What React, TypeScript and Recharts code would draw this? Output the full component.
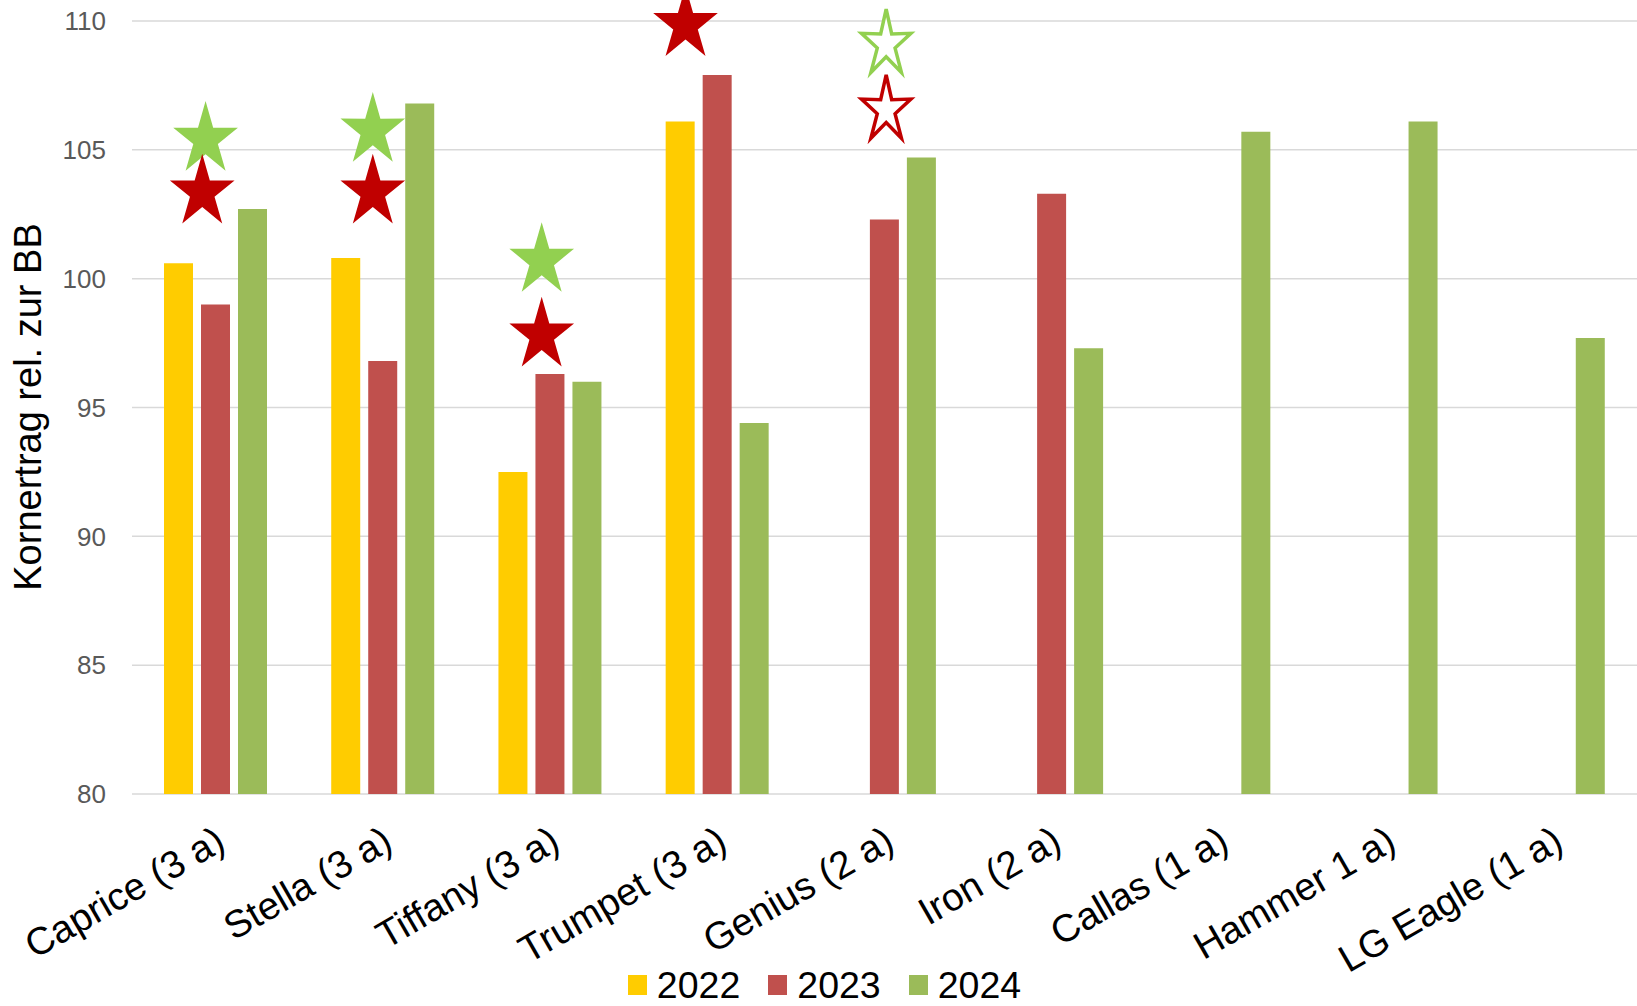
import {
  Bar,
  CartesianGrid,
  ComposedChart,
  Legend,
  Scatter,
  XAxis,
  YAxis,
} from 'recharts';

const CATEGORIES = [
  'Caprice (3 a)',
  'Stella (3 a)',
  'Tiffany (3 a)',
  'Trumpet (3 a)',
  'Genius (2 a)',
  'Iron (2 a)',
  'Callas (1 a)',
  'Hammer 1 a)',
  'LG Eagle (1 a)',
];

const Y2022 = [100.6, 100.8, 92.5, 106.1, null, null, null, null, null];
const Y2023 = [99.0, 96.8, 96.3, 107.9, 102.3, 103.3, null, null, null];
const Y2024 = [102.7, 106.8, 96.0, 94.4, 104.7, 97.3, 105.7, 106.1, 97.7];

const Y_TICKS = [80, 85, 90, 95, 100, 105, 110];

// significance stars: x in category units (0..9), y in chart units
const STARS_GREEN_FILLED = [
  { x: 0.44, y: 105.4 },
  { x: 1.44, y: 105.75 },
  { x: 2.45, y: 100.7 },
];
const STARS_RED_FILLED = [
  { x: 0.42, y: 103.35 },
  { x: 1.44, y: 103.35 },
  { x: 2.45, y: 97.8 },
  { x: 3.31, y: 109.85 },
];
const STARS_GREEN_OPEN = [{ x: 4.51, y: 109.1 }];
const STARS_RED_OPEN = [{ x: 4.51, y: 106.55 }];

const SERIES = [
  { key: 'y2022', label: '2022', color: '#FFCC00' },
  { key: 'y2023', label: '2023', color: '#C0504D' },
  { key: 'y2024', label: '2024', color: '#9BBB59' },
];

const chartData = CATEGORIES.map((name, i) => ({
  name,
  y2022: Y2022[i],
  y2023: Y2023[i],
  y2024: Y2024[i],
}));

const FONT = '"Liberation Sans", Arial, sans-serif';

function starShape(fill: string, stroke: string, rx: number, ry: number, inner: number) {
  return (props: any) => {
    const { cx, cy } = props;
    const pts: string[] = [];
    for (let i = 0; i < 10; i++) {
      const a = ((-90 + i * 36) * Math.PI) / 180;
      const r = i % 2 === 0 ? 1 : inner;
      pts.push(`${cx + r * rx * Math.cos(a)},${cy + r * ry * Math.sin(a)}`);
    }
    return (
      <polygon
        points={pts.join(' ')}
        fill={fill}
        stroke={stroke}
        strokeWidth={stroke === 'none' ? 0 : 3.5}
        strokeLinejoin="miter"
      />
    );
  };
}

const CategoryTick = (props: any) => {
  const { x, y, payload } = props;
  return (
    <g transform={`translate(${x - 2},${y + 30})`}>
      <text
        textAnchor="end"
        transform="rotate(-30)"
        dy="0.72em"
        fontSize={38.5}
        fontFamily={FONT}
        fill="#000"
      >
        {payload.value}
      </text>
    </g>
  );
};

const LegendContent = () => (
  <div
    style={{
      display: 'flex',
      justifyContent: 'center',
      paddingTop: 16,
      paddingLeft: 12,
      fontFamily: FONT,
      fontSize: 37.5,
      lineHeight: '30px',
      color: '#000',
    }}
  >
    {SERIES.map((s, i) => (
      <div
        key={s.key}
        style={{ display: 'flex', alignItems: 'center', marginLeft: i === 0 ? 0 : 28 }}
      >
        <span style={{ width: 19, height: 20, background: s.color, marginRight: 10 }} />
        <span>{s.label}</span>
      </div>
    ))}
  </div>
);

export default function App() {
  return (
    <div style={{ width: 1637, height: 1006, background: '#fff' }}>
      <style>{'body{margin:0;}'}</style>
      <ComposedChart
        width={1637}
        height={1006}
        data={chartData}
        margin={{ top: 21, right: 0, bottom: 0, left: 0 }}
        barGap={8}
      >
        <CartesianGrid vertical={false} stroke="#d9d9d9" strokeWidth={1.5} />
        <XAxis
          xAxisId="cat"
          dataKey="name"
          interval={0}
          axisLine={false}
          tickLine={false}
          tickSize={0}
          tickMargin={0}
          height={160}
          tick={<CategoryTick />}
        />
        <XAxis xAxisId="num" type="number" dataKey="x" domain={[0, 9]} hide />
        <YAxis
          type="number"
          domain={[80, 110]}
          ticks={Y_TICKS}
          width={132}
          axisLine={false}
          tickLine={false}
          tickSize={0}
          tickMargin={26}
          tick={{ fontSize: 26, fill: '#595959', fontFamily: FONT }}
          label={{
            content: () => (
              <text
                x={41}
                y={407}
                transform="rotate(-90, 41, 407)"
                textAnchor="middle"
                fontSize={38}
                fontFamily={FONT}
                fill="#000"
              >
                Kornertrag rel. zur BB
              </text>
            ),
          }}
        />
        {SERIES.map((s) => (
          <Bar
            key={s.key}
            xAxisId="cat"
            dataKey={s.key}
            name={s.label}
            fill={s.color}
            barSize={29}
            isAnimationActive={false}
          />
        ))}
        <Scatter
          xAxisId="num"
          data={STARS_GREEN_FILLED}
          dataKey="y"
          shape={starShape('#92D050', 'none', 34, 38.5, 0.38)}
          legendType="none"
          isAnimationActive={false}
        />
        <Scatter
          xAxisId="num"
          data={STARS_RED_FILLED}
          dataKey="y"
          shape={starShape('#C00000', 'none', 34, 38.5, 0.38)}
          legendType="none"
          isAnimationActive={false}
        />
        <Scatter
          xAxisId="num"
          data={STARS_GREEN_OPEN}
          dataKey="y"
          shape={starShape('#fff', '#92D050', 26, 35, 0.36)}
          legendType="none"
          isAnimationActive={false}
        />
        <Scatter
          xAxisId="num"
          data={STARS_RED_OPEN}
          dataKey="y"
          shape={starShape('#fff', '#C00000', 26, 35, 0.36)}
          legendType="none"
          isAnimationActive={false}
        />
        <Legend verticalAlign="bottom" height={52} content={<LegendContent />} />
      </ComposedChart>
    </div>
  );
}
